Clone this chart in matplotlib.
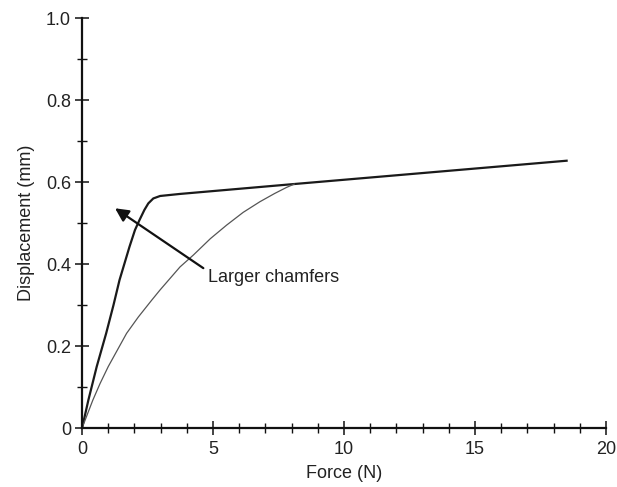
import numpy as np
import matplotlib
matplotlib.use("Agg")
import matplotlib.pyplot as plt
from matplotlib.ticker import MultipleLocator

plt.rcParams['font.family'] = ['Liberation Sans', 'DejaVu Sans']

# larger chamfers (thick curve)
force_a = [0, 0.24, 0.56, 0.92, 1.20, 1.43, 1.81, 2.02, 2.19, 2.38, 2.53,
           2.72, 2.98, 3.74, 8.07, 18.5]
disp_a = [0, 0.068, 0.150, 0.231, 0.300, 0.361, 0.442, 0.483, 0.507, 0.532,
          0.548, 0.560, 0.566, 0.571, 0.595, 0.652]

# smaller chamfers (thin curve)
force_b = [0, 0.41, 0.69, 1.0, 1.70, 2.15, 2.66, 2.98, 3.74, 4.25, 4.9,
           5.52, 6.15, 6.79, 7.35, 7.81, 8.1]
disp_b = [0, 0.068, 0.109, 0.150, 0.231, 0.271, 0.312, 0.337, 0.393, 0.422,
          0.462, 0.495, 0.526, 0.552, 0.572, 0.587, 0.595]

fig = plt.figure(figsize=(6.17, 4.87), dpi=100)
ax = fig.add_axes([0.133, 0.121, 0.849, 0.842])

ax.plot(force_a, disp_a, color='#1a1a1a', lw=1.6, solid_joinstyle='round')
ax.plot(force_b, disp_b, color='#555555', lw=0.9, solid_joinstyle='round')

ax.annotate('', xy=(1.26, 0.536), xytext=(4.63, 0.39),
            arrowprops=dict(arrowstyle='-|>', color='#111111', lw=1.6,
                            mutation_scale=20, shrinkA=0, shrinkB=0))
ax.text(4.82, 0.366, 'Larger chamfers', fontsize=13, color='#222222',
        va='center', ha='left')

ax.set_xlim(0, 20)
ax.set_ylim(0, 1.0)
ax.xaxis.set_major_locator(MultipleLocator(5))
ax.xaxis.set_minor_locator(MultipleLocator(1))
ax.yaxis.set_major_locator(MultipleLocator(0.2))
ax.yaxis.set_minor_locator(MultipleLocator(0.1))
ax.set_yticks([0, 0.2, 0.4, 0.6, 0.8, 1.0])
ax.set_yticklabels(['0', '0.2', '0.4', '0.6', '0.8', '1.0'])

for s in ['top', 'right']:
    ax.spines[s].set_visible(False)
for s in ['left', 'bottom']:
    ax.spines[s].set_linewidth(1.6)
    ax.spines[s].set_color('#111111')

ax.tick_params(which='major', direction='inout', length=10, width=1.1,
               colors='#111111', labelsize=13, labelcolor='#222222')
ax.tick_params(which='minor', direction='inout', length=7, width=1.0,
               colors='#111111')
ax.tick_params(axis='x', which='major', pad=4)
ax.tick_params(axis='y', which='major', pad=3)

ax.set_xlabel('Force (N)', fontsize=13, color='#222222', labelpad=5)
ax.set_ylabel('Displacement (mm)', fontsize=13, color='#222222', labelpad=8)

fig.savefig('out.png', dpi=100)
